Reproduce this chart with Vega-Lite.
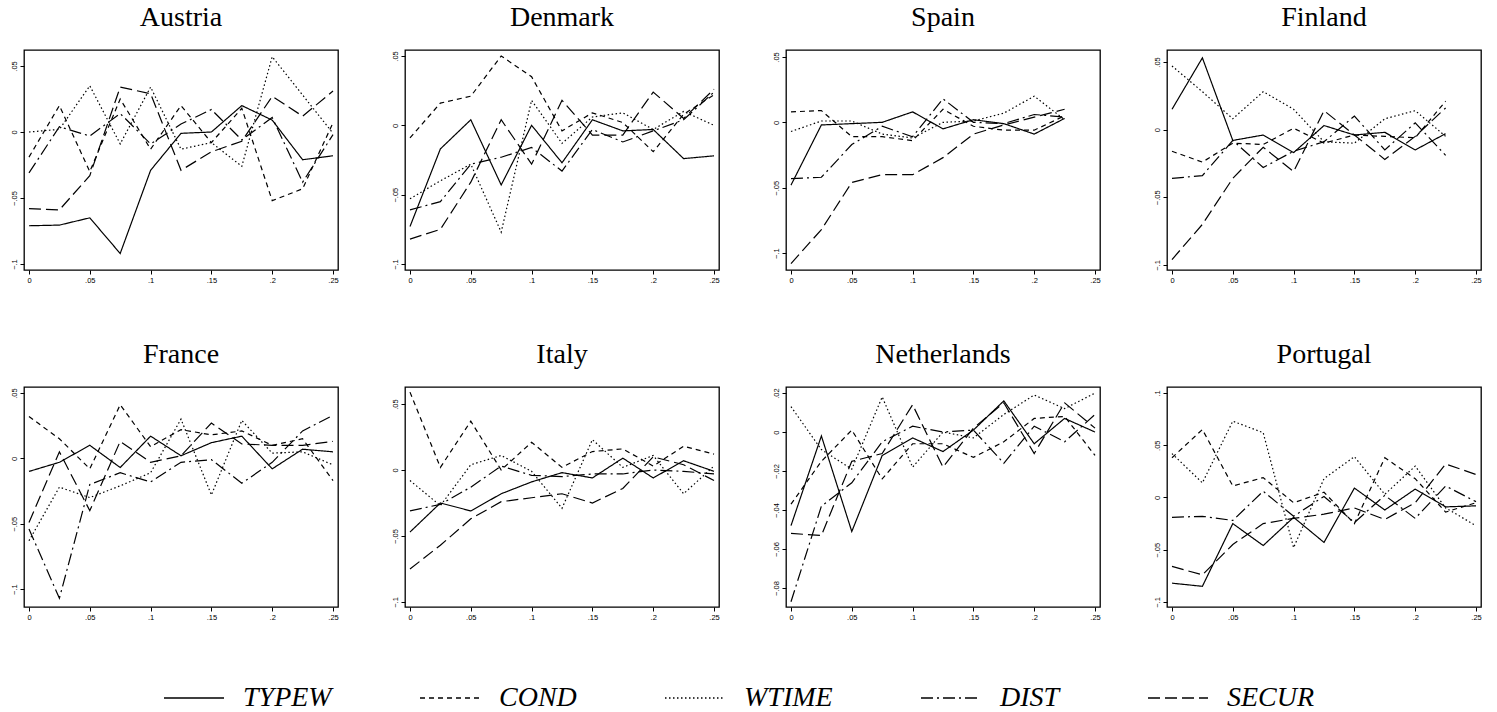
{
  "$schema": "https://vega.github.io/schema/vega-lite/v6.json",
  "padding": {"left": 9, "top": 3, "right": 5, "bottom": 5},
  "background": "white",
  "data": {"values": [
    {"country":"Austria","x":0,"TYPEW":-0.071,"COND":-0.019,"WTIME":0.000,"DIST":-0.031,"SECUR":-0.058},
    {"country":"Austria","x":0.025,"TYPEW":-0.0705,"COND":0.020,"WTIME":0.002,"DIST":0.004,"SECUR":-0.059},
    {"country":"Austria","x":0.05,"TYPEW":-0.065,"COND":-0.030,"WTIME":0.035,"DIST":-0.003,"SECUR":-0.033},
    {"country":"Austria","x":0.075,"TYPEW":-0.092,"COND":0.025,"WTIME":-0.009,"DIST":0.014,"SECUR":0.034},
    {"country":"Austria","x":0.1,"TYPEW":-0.029,"COND":-0.013,"WTIME":0.034,"DIST":-0.009,"SECUR":0.029},
    {"country":"Austria","x":0.125,"TYPEW":-0.001,"COND":0.020,"WTIME":-0.013,"DIST":0.006,"SECUR":-0.029},
    {"country":"Austria","x":0.15,"TYPEW":0.000,"COND":-0.008,"WTIME":-0.008,"DIST":0.017,"SECUR":-0.015},
    {"country":"Austria","x":0.175,"TYPEW":0.020,"COND":0.018,"WTIME":-0.026,"DIST":-0.006,"SECUR":-0.007},
    {"country":"Austria","x":0.2,"TYPEW":0.009,"COND":-0.052,"WTIME":0.057,"DIST":0.011,"SECUR":0.027},
    {"country":"Austria","x":0.225,"TYPEW":-0.021,"COND":-0.043,"WTIME":0.028,"DIST":-0.038,"SECUR":0.012},
    {"country":"Austria","x":0.25,"TYPEW":-0.018,"COND":0.007,"WTIME":-0.001,"DIST":-0.002,"SECUR":0.031},

    {"country":"Denmark","x":0,"TYPEW":-0.073,"COND":-0.009,"WTIME":-0.053,"DIST":-0.061,"SECUR":-0.082},
    {"country":"Denmark","x":0.025,"TYPEW":-0.017,"COND":0.016,"WTIME":-0.040,"DIST":-0.055,"SECUR":-0.075},
    {"country":"Denmark","x":0.05,"TYPEW":0.004,"COND":0.021,"WTIME":-0.028,"DIST":-0.028,"SECUR":-0.041},
    {"country":"Denmark","x":0.075,"TYPEW":-0.043,"COND":0.050,"WTIME":-0.077,"DIST":-0.023,"SECUR":0.004},
    {"country":"Denmark","x":0.1,"TYPEW":0.000,"COND":0.035,"WTIME":0.018,"DIST":-0.016,"SECUR":-0.028},
    {"country":"Denmark","x":0.125,"TYPEW":-0.027,"COND":-0.004,"WTIME":-0.013,"DIST":-0.033,"SECUR":0.018},
    {"country":"Denmark","x":0.15,"TYPEW":0.004,"COND":0.009,"WTIME":0.006,"DIST":-0.003,"SECUR":-0.007},
    {"country":"Denmark","x":0.175,"TYPEW":-0.004,"COND":0.002,"WTIME":0.009,"DIST":-0.012,"SECUR":-0.007},
    {"country":"Denmark","x":0.2,"TYPEW":-0.003,"COND":-0.019,"WTIME":-0.003,"DIST":-0.004,"SECUR":0.024},
    {"country":"Denmark","x":0.225,"TYPEW":-0.024,"COND":0.008,"WTIME":0.010,"DIST":0.004,"SECUR":0.005},
    {"country":"Denmark","x":0.25,"TYPEW":-0.022,"COND":0.022,"WTIME":0.000,"DIST":0.024,"SECUR":0.026},

    {"country":"Spain","x":0,"TYPEW":-0.048,"COND":0.008,"WTIME":-0.007,"DIST":-0.043,"SECUR":-0.108},
    {"country":"Spain","x":0.025,"TYPEW":-0.002,"COND":0.009,"WTIME":0.001,"DIST":-0.042,"SECUR":-0.082},
    {"country":"Spain","x":0.05,"TYPEW":-0.001,"COND":-0.011,"WTIME":0.001,"DIST":-0.017,"SECUR":-0.046},
    {"country":"Spain","x":0.075,"TYPEW":0.000,"COND":-0.011,"WTIME":-0.009,"DIST":-0.003,"SECUR":-0.040},
    {"country":"Spain","x":0.1,"TYPEW":0.008,"COND":-0.014,"WTIME":-0.012,"DIST":-0.011,"SECUR":-0.040},
    {"country":"Spain","x":0.125,"TYPEW":-0.005,"COND":0.010,"WTIME":0.000,"DIST":0.018,"SECUR":-0.027},
    {"country":"Spain","x":0.15,"TYPEW":0.002,"COND":-0.003,"WTIME":0.001,"DIST":0.000,"SECUR":-0.009},
    {"country":"Spain","x":0.175,"TYPEW":-0.001,"COND":-0.006,"WTIME":0.007,"DIST":-0.001,"SECUR":-0.002},
    {"country":"Spain","x":0.2,"TYPEW":-0.009,"COND":-0.006,"WTIME":0.020,"DIST":0.006,"SECUR":0.004},
    {"country":"Spain","x":0.225,"TYPEW":0.003,"COND":0.005,"WTIME":0.002,"DIST":0.004,"SECUR":0.010},

    {"country":"Finland","x":0,"TYPEW":0.015,"COND":-0.016,"WTIME":0.047,"DIST":-0.036,"SECUR":-0.096},
    {"country":"Finland","x":0.025,"TYPEW":0.053,"COND":-0.024,"WTIME":0.028,"DIST":-0.034,"SECUR":-0.070},
    {"country":"Finland","x":0.05,"TYPEW":-0.008,"COND":-0.010,"WTIME":0.008,"DIST":-0.008,"SECUR":-0.036},
    {"country":"Finland","x":0.075,"TYPEW":-0.004,"COND":-0.011,"WTIME":0.028,"DIST":-0.028,"SECUR":-0.013},
    {"country":"Finland","x":0.1,"TYPEW":-0.017,"COND":0.001,"WTIME":0.015,"DIST":-0.016,"SECUR":-0.031},
    {"country":"Finland","x":0.125,"TYPEW":0.003,"COND":-0.010,"WTIME":-0.009,"DIST":-0.009,"SECUR":0.014},
    {"country":"Finland","x":0.15,"TYPEW":-0.004,"COND":-0.004,"WTIME":-0.010,"DIST":0.010,"SECUR":-0.004},
    {"country":"Finland","x":0.175,"TYPEW":-0.002,"COND":-0.005,"WTIME":0.008,"DIST":-0.015,"SECUR":-0.022},
    {"country":"Finland","x":0.2,"TYPEW":-0.015,"COND":-0.006,"WTIME":0.014,"DIST":0.005,"SECUR":-0.005},
    {"country":"Finland","x":0.225,"TYPEW":-0.003,"COND":0.021,"WTIME":-0.005,"DIST":-0.019,"SECUR":0.016},

    {"country":"France","x":0,"TYPEW":-0.010,"COND":0.032,"WTIME":-0.063,"DIST":-0.054,"SECUR":-0.049},
    {"country":"France","x":0.025,"TYPEW":-0.003,"COND":0.015,"WTIME":-0.022,"DIST":-0.107,"SECUR":0.005},
    {"country":"France","x":0.05,"TYPEW":0.010,"COND":-0.008,"WTIME":-0.030,"DIST":-0.020,"SECUR":-0.040},
    {"country":"France","x":0.075,"TYPEW":-0.007,"COND":0.041,"WTIME":-0.021,"DIST":-0.011,"SECUR":0.013},
    {"country":"France","x":0.1,"TYPEW":0.017,"COND":0.009,"WTIME":-0.011,"DIST":-0.018,"SECUR":-0.003},
    {"country":"France","x":0.125,"TYPEW":0.002,"COND":0.022,"WTIME":0.030,"DIST":-0.003,"SECUR":0.002},
    {"country":"France","x":0.15,"TYPEW":0.012,"COND":0.018,"WTIME":-0.028,"DIST":-0.001,"SECUR":0.027},
    {"country":"France","x":0.175,"TYPEW":0.017,"COND":0.021,"WTIME":0.029,"DIST":-0.019,"SECUR":0.011},
    {"country":"France","x":0.2,"TYPEW":-0.008,"COND":0.010,"WTIME":0.004,"DIST":-0.003,"SECUR":0.010},
    {"country":"France","x":0.225,"TYPEW":0.007,"COND":0.015,"WTIME":0.005,"DIST":0.021,"SECUR":0.010},
    {"country":"France","x":0.25,"TYPEW":0.005,"COND":-0.017,"WTIME":-0.005,"DIST":0.033,"SECUR":0.013},

    {"country":"Italy","x":0,"TYPEW":-0.047,"COND":0.059,"WTIME":-0.008,"DIST":-0.031,"SECUR":-0.075},
    {"country":"Italy","x":0.025,"TYPEW":-0.025,"COND":0.002,"WTIME":-0.027,"DIST":-0.026,"SECUR":-0.057},
    {"country":"Italy","x":0.05,"TYPEW":-0.031,"COND":0.037,"WTIME":0.004,"DIST":-0.013,"SECUR":-0.037},
    {"country":"Italy","x":0.075,"TYPEW":-0.018,"COND":0.000,"WTIME":0.011,"DIST":0.003,"SECUR":-0.024},
    {"country":"Italy","x":0.1,"TYPEW":-0.009,"COND":0.021,"WTIME":-0.001,"DIST":-0.004,"SECUR":-0.021},
    {"country":"Italy","x":0.125,"TYPEW":-0.002,"COND":0.002,"WTIME":-0.029,"DIST":-0.005,"SECUR":-0.018},
    {"country":"Italy","x":0.15,"TYPEW":-0.006,"COND":0.014,"WTIME":0.023,"DIST":-0.003,"SECUR":-0.025},
    {"country":"Italy","x":0.175,"TYPEW":0.009,"COND":0.016,"WTIME":0.002,"DIST":-0.003,"SECUR":-0.014},
    {"country":"Italy","x":0.2,"TYPEW":-0.006,"COND":0.003,"WTIME":0.011,"DIST":0.000,"SECUR":0.010},
    {"country":"Italy","x":0.225,"TYPEW":0.007,"COND":0.018,"WTIME":-0.018,"DIST":-0.001,"SECUR":0.004},
    {"country":"Italy","x":0.25,"TYPEW":-0.001,"COND":0.012,"WTIME":0.003,"DIST":-0.003,"SECUR":-0.008},

    {"country":"Netherlands","x":0,"TYPEW":-0.048,"COND":-0.037,"WTIME":0.013,"DIST":-0.087,"SECUR":-0.052},
    {"country":"Netherlands","x":0.025,"TYPEW":-0.002,"COND":-0.015,"WTIME":-0.009,"DIST":-0.038,"SECUR":-0.053},
    {"country":"Netherlands","x":0.05,"TYPEW":-0.051,"COND":0.001,"WTIME":-0.019,"DIST":-0.026,"SECUR":-0.015},
    {"country":"Netherlands","x":0.075,"TYPEW":-0.012,"COND":-0.024,"WTIME":0.018,"DIST":-0.005,"SECUR":-0.011},
    {"country":"Netherlands","x":0.1,"TYPEW":-0.003,"COND":-0.006,"WTIME":-0.018,"DIST":0.003,"SECUR":0.014},
    {"country":"Netherlands","x":0.125,"TYPEW":-0.010,"COND":-0.006,"WTIME":0.000,"DIST":0.000,"SECUR":-0.018},
    {"country":"Netherlands","x":0.15,"TYPEW":0.001,"COND":-0.013,"WTIME":-0.003,"DIST":0.001,"SECUR":0.002},
    {"country":"Netherlands","x":0.175,"TYPEW":0.016,"COND":-0.005,"WTIME":0.009,"DIST":-0.016,"SECUR":0.015},
    {"country":"Netherlands","x":0.2,"TYPEW":-0.006,"COND":0.007,"WTIME":0.019,"DIST":0.003,"SECUR":-0.011},
    {"country":"Netherlands","x":0.225,"TYPEW":0.007,"COND":0.008,"WTIME":0.012,"DIST":-0.005,"SECUR":0.015},
    {"country":"Netherlands","x":0.25,"TYPEW":0.000,"COND":-0.012,"WTIME":0.020,"DIST":0.009,"SECUR":0.002},

    {"country":"Portugal","x":0,"TYPEW":-0.082,"COND":0.038,"WTIME":0.042,"DIST":-0.019,"SECUR":-0.066},
    {"country":"Portugal","x":0.025,"TYPEW":-0.085,"COND":0.065,"WTIME":0.014,"DIST":-0.018,"SECUR":-0.074},
    {"country":"Portugal","x":0.05,"TYPEW":-0.025,"COND":0.011,"WTIME":0.073,"DIST":-0.022,"SECUR":-0.045},
    {"country":"Portugal","x":0.075,"TYPEW":-0.046,"COND":0.019,"WTIME":0.062,"DIST":0.006,"SECUR":-0.025},
    {"country":"Portugal","x":0.1,"TYPEW":-0.019,"COND":-0.005,"WTIME":-0.048,"DIST":-0.018,"SECUR":-0.020},
    {"country":"Portugal","x":0.125,"TYPEW":-0.043,"COND":0.005,"WTIME":0.018,"DIST":0.001,"SECUR":-0.016},
    {"country":"Portugal","x":0.15,"TYPEW":0.009,"COND":-0.025,"WTIME":0.039,"DIST":-0.024,"SECUR":-0.010},
    {"country":"Portugal","x":0.175,"TYPEW":-0.012,"COND":0.038,"WTIME":0.003,"DIST":0.002,"SECUR":-0.021},
    {"country":"Portugal","x":0.2,"TYPEW":0.008,"COND":0.018,"WTIME":0.030,"DIST":-0.020,"SECUR":-0.005},
    {"country":"Portugal","x":0.225,"TYPEW":-0.009,"COND":-0.014,"WTIME":-0.010,"DIST":0.011,"SECUR":0.032},
    {"country":"Portugal","x":0.25,"TYPEW":-0.008,"COND":-0.005,"WTIME":-0.027,"DIST":-0.004,"SECUR":0.022}
  ]},
  "columns": 4,
  "bounds": "flush",
  "spacing": {"row": 117, "column": 67},
  "concat": [
    {"title": "Austria", "width": 314, "height": 220,
     "transform": [{"filter": "datum.country === 'Austria'"}, {"fold": ["TYPEW","COND","WTIME","DIST","SECUR"], "as": ["series","value"]}],
     "mark": {"type": "line", "color": "black", "strokeWidth": 1.2},
     "encoding": {
       "x": {"field": "x", "type": "quantitative", "scale": {"domain": [-0.0041, 0.2541], "nice": false, "zero": false}, "axis": {"title": null, "values": [0,0.05,0.1,0.15,0.2,0.25], "labelExpr": "datum.value == 0 ? '0' : replace(format(datum.value, '~g'), '0.', '.')"}},
       "y": {"field": "value", "type": "quantitative", "scale": {"domain": [-0.1045, 0.0621], "nice": false, "zero": false}, "axis": {"title": null, "values": [-0.1,-0.05,0,0.05], "labelExpr": "datum.value == 0 ? '0' : replace(format(datum.value, '~g'), '0.', '.')"}},
       "strokeDash": {"field": "series", "type": "nominal", "scale": {"domain": ["TYPEW","COND","WTIME","DIST","SECUR"], "range": [[1,0],[5,4],[1.5,2.5],[12,4,2,4],[12,5]]}, "legend": {"title": null, "orient": "none", "direction": "horizontal", "legendX": 139, "legendY": 617}}
     }},
    {"title": "Denmark", "width": 314, "height": 220,
     "transform": [{"filter": "datum.country === 'Denmark'"}, {"fold": ["TYPEW","COND","WTIME","DIST","SECUR"], "as": ["series","value"]}],
     "mark": {"type": "line", "color": "black", "strokeWidth": 1.2},
     "encoding": {
       "x": {"field": "x", "type": "quantitative", "scale": {"domain": [-0.0041, 0.2541], "nice": false, "zero": false}, "axis": {"title": null, "values": [0,0.05,0.1,0.15,0.2,0.25], "labelExpr": "datum.value == 0 ? '0' : replace(format(datum.value, '~g'), '0.', '.')"}},
       "y": {"field": "value", "type": "quantitative", "scale": {"domain": [-0.1043, 0.0543], "nice": false, "zero": false}, "axis": {"title": null, "values": [-0.1,-0.05,0,0.05], "labelExpr": "datum.value == 0 ? '0' : replace(format(datum.value, '~g'), '0.', '.')"}},
       "strokeDash": {"field": "series", "type": "nominal", "scale": {"domain": ["TYPEW","COND","WTIME","DIST","SECUR"], "range": [[1,0],[5,4],[1.5,2.5],[12,4,2,4],[12,5]]}, "legend": {"title": null, "orient": "none", "direction": "horizontal", "legendX": 139, "legendY": 617}}
     }},
    {"title": "Spain", "width": 314, "height": 220,
     "transform": [{"filter": "datum.country === 'Spain'"}, {"fold": ["TYPEW","COND","WTIME","DIST","SECUR"], "as": ["series","value"]}],
     "mark": {"type": "line", "color": "black", "strokeWidth": 1.2},
     "encoding": {
       "x": {"field": "x", "type": "quantitative", "scale": {"domain": [-0.0041, 0.2541], "nice": false, "zero": false}, "axis": {"title": null, "values": [0,0.05,0.1,0.15,0.2,0.25], "labelExpr": "datum.value == 0 ? '0' : replace(format(datum.value, '~g'), '0.', '.')"}},
       "y": {"field": "value", "type": "quantitative", "scale": {"domain": [-0.1129, 0.0553], "nice": false, "zero": false}, "axis": {"title": null, "values": [-0.1,-0.05,0,0.05], "labelExpr": "datum.value == 0 ? '0' : replace(format(datum.value, '~g'), '0.', '.')"}},
       "strokeDash": {"field": "series", "type": "nominal", "scale": {"domain": ["TYPEW","COND","WTIME","DIST","SECUR"], "range": [[1,0],[5,4],[1.5,2.5],[12,4,2,4],[12,5]]}, "legend": {"title": null, "orient": "none", "direction": "horizontal", "legendX": 139, "legendY": 617}}
     }},
    {"title": "Finland", "width": 314, "height": 220,
     "transform": [{"filter": "datum.country === 'Finland'"}, {"fold": ["TYPEW","COND","WTIME","DIST","SECUR"], "as": ["series","value"]}],
     "mark": {"type": "line", "color": "black", "strokeWidth": 1.2},
     "encoding": {
       "x": {"field": "x", "type": "quantitative", "scale": {"domain": [-0.0041, 0.2541], "nice": false, "zero": false}, "axis": {"title": null, "values": [0,0.05,0.1,0.15,0.2,0.25], "labelExpr": "datum.value == 0 ? '0' : replace(format(datum.value, '~g'), '0.', '.')"}},
       "y": {"field": "value", "type": "quantitative", "scale": {"domain": [-0.1037, 0.0588], "nice": false, "zero": false}, "axis": {"title": null, "values": [-0.1,-0.05,0,0.05], "labelExpr": "datum.value == 0 ? '0' : replace(format(datum.value, '~g'), '0.', '.')"}},
       "strokeDash": {"field": "series", "type": "nominal", "scale": {"domain": ["TYPEW","COND","WTIME","DIST","SECUR"], "range": [[1,0],[5,4],[1.5,2.5],[12,4,2,4],[12,5]]}, "legend": {"title": null, "orient": "none", "direction": "horizontal", "legendX": 139, "legendY": 617}}
     }},
    {"title": "France", "width": 314, "height": 220,
     "transform": [{"filter": "datum.country === 'France'"}, {"fold": ["TYPEW","COND","WTIME","DIST","SECUR"], "as": ["series","value"]}],
     "mark": {"type": "line", "color": "black", "strokeWidth": 1.2},
     "encoding": {
       "x": {"field": "x", "type": "quantitative", "scale": {"domain": [-0.0041, 0.2541], "nice": false, "zero": false}, "axis": {"title": null, "values": [0,0.05,0.1,0.15,0.2,0.25], "labelExpr": "datum.value == 0 ? '0' : replace(format(datum.value, '~g'), '0.', '.')"}},
       "y": {"field": "value", "type": "quantitative", "scale": {"domain": [-0.1137, 0.0546], "nice": false, "zero": false}, "axis": {"title": null, "values": [-0.1,-0.05,0,0.05], "labelExpr": "datum.value == 0 ? '0' : replace(format(datum.value, '~g'), '0.', '.')"}},
       "strokeDash": {"field": "series", "type": "nominal", "scale": {"domain": ["TYPEW","COND","WTIME","DIST","SECUR"], "range": [[1,0],[5,4],[1.5,2.5],[12,4,2,4],[12,5]]}, "legend": {"title": null, "orient": "none", "direction": "horizontal", "legendX": 139, "legendY": 617}}
     }},
    {"title": "Italy", "width": 314, "height": 220,
     "transform": [{"filter": "datum.country === 'Italy'"}, {"fold": ["TYPEW","COND","WTIME","DIST","SECUR"], "as": ["series","value"]}],
     "mark": {"type": "line", "color": "black", "strokeWidth": 1.2},
     "encoding": {
       "x": {"field": "x", "type": "quantitative", "scale": {"domain": [-0.0041, 0.2541], "nice": false, "zero": false}, "axis": {"title": null, "values": [0,0.05,0.1,0.15,0.2,0.25], "labelExpr": "datum.value == 0 ? '0' : replace(format(datum.value, '~g'), '0.', '.')"}},
       "y": {"field": "value", "type": "quantitative", "scale": {"domain": [-0.1038, 0.0629], "nice": false, "zero": false}, "axis": {"title": null, "values": [-0.1,-0.05,0,0.05], "labelExpr": "datum.value == 0 ? '0' : replace(format(datum.value, '~g'), '0.', '.')"}},
       "strokeDash": {"field": "series", "type": "nominal", "scale": {"domain": ["TYPEW","COND","WTIME","DIST","SECUR"], "range": [[1,0],[5,4],[1.5,2.5],[12,4,2,4],[12,5]]}, "legend": {"title": null, "orient": "none", "direction": "horizontal", "legendX": 139, "legendY": 617}}
     }},
    {"title": "Netherlands", "width": 314, "height": 220,
     "transform": [{"filter": "datum.country === 'Netherlands'"}, {"fold": ["TYPEW","COND","WTIME","DIST","SECUR"], "as": ["series","value"]}],
     "mark": {"type": "line", "color": "black", "strokeWidth": 1.2},
     "encoding": {
       "x": {"field": "x", "type": "quantitative", "scale": {"domain": [-0.0041, 0.2541], "nice": false, "zero": false}, "axis": {"title": null, "values": [0,0.05,0.1,0.15,0.2,0.25], "labelExpr": "datum.value == 0 ? '0' : replace(format(datum.value, '~g'), '0.', '.')"}},
       "y": {"field": "value", "type": "quantitative", "scale": {"domain": [-0.0897, 0.0231], "nice": false, "zero": false}, "axis": {"title": null, "values": [-0.08,-0.06,-0.04,-0.02,0,0.02], "labelExpr": "datum.value == 0 ? '0' : replace(format(datum.value, '~g'), '0.', '.')"}},
       "strokeDash": {"field": "series", "type": "nominal", "scale": {"domain": ["TYPEW","COND","WTIME","DIST","SECUR"], "range": [[1,0],[5,4],[1.5,2.5],[12,4,2,4],[12,5]]}, "legend": {"title": null, "orient": "none", "direction": "horizontal", "legendX": 139, "legendY": 617}}
     }},
    {"title": "Portugal", "width": 314, "height": 220,
     "transform": [{"filter": "datum.country === 'Portugal'"}, {"fold": ["TYPEW","COND","WTIME","DIST","SECUR"], "as": ["series","value"]}],
     "mark": {"type": "line", "color": "black", "strokeWidth": 1.2},
     "encoding": {
       "x": {"field": "x", "type": "quantitative", "scale": {"domain": [-0.0041, 0.2541], "nice": false, "zero": false}, "axis": {"title": null, "values": [0,0.05,0.1,0.15,0.2,0.25], "labelExpr": "datum.value == 0 ? '0' : replace(format(datum.value, '~g'), '0.', '.')"}},
       "y": {"field": "value", "type": "quantitative", "scale": {"domain": [-0.1048, 0.1057], "nice": false, "zero": false}, "axis": {"title": null, "values": [-0.1,-0.05,0,0.05,0.1], "labelExpr": "datum.value == 0 ? '0' : replace(format(datum.value, '~g'), '0.', '.')"}},
       "strokeDash": {"field": "series", "type": "nominal", "scale": {"domain": ["TYPEW","COND","WTIME","DIST","SECUR"], "range": [[1,0],[5,4],[1.5,2.5],[12,4,2,4],[12,5]]}, "legend": {"title": null, "orient": "none", "direction": "horizontal", "legendX": 139, "legendY": 617}}
     }}
  ],
  "config": {
    "view": {"stroke": "black", "strokeWidth": 1.3},
    "axis": {"grid": false, "domain": false, "labelFont": "Liberation Sans", "labelFontSize": 7.5, "labelColor": "black", "tickColor": "black", "tickSize": 4, "labelPadding": 2},
    "axisY": {"labelAngle": 270, "labelAlign": "center", "labelBaseline": "bottom"},
    "title": {"font": "Liberation Serif", "fontSize": 28, "fontWeight": "normal", "color": "black", "offset": 18, "baseline": "alphabetic", "anchor": "middle"},
    "legend": {"symbolType": "stroke", "symbolSize": 3600, "symbolStrokeWidth": 1.5, "symbolStrokeColor": "black", "labelFont": "Liberation Serif", "labelFontStyle": "italic", "labelFontSize": 28, "labelColor": "black", "labelOffset": 18, "columnPadding": 85, "labelLimit": 300}
  }
}
